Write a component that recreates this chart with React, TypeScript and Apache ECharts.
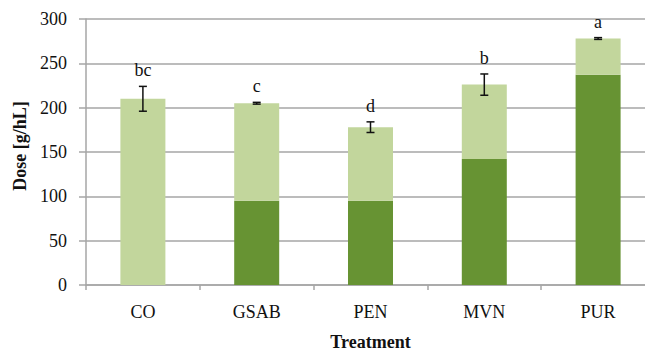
import React, { useEffect, useRef } from "react";
import * as echarts from "echarts";

const categories = ["CO", "GSAB", "PEN", "MVN", "PUR"];
const darkValues = [0, 95, 95, 142, 237];
const totalValues = [210, 205, 178, 226, 278];
const errors = [14, 1, 6, 12, 1];
const letters = ["bc", "c", "d", "b", "a"];
const yTicks = { min: 0, max: 300, interval: 50 };

const FONT = "'Liberation Serif', 'Times New Roman', serif";
const GRID = "#a6a6a6";

export default function App() {
  const ref = useRef<HTMLDivElement>(null);
  useEffect(() => {
    if (!ref.current) return;
    const chart = echarts.init(ref.current, null, { renderer: "svg" });
    const lightValues = totalValues.map((t, i) => t - darkValues[i]);
    chart.setOption({
      animation: false,
      grid: { left: 86, top: 19, width: 569, height: 266, outerBoundsMode: "none", containLabel: false },
      xAxis: {
        type: "category",
        data: categories,
        name: "Treatment",
        nameLocation: "middle",
        nameGap: 48,
        nameTextStyle: { fontFamily: FONT, fontSize: 18, fontWeight: "bold", color: "#111" },
        axisLine: { lineStyle: { color: GRID, width: 1.5 } },
        axisTick: { show: true, length: 5, lineStyle: { color: GRID, width: 1.5 } },
        axisLabel: { fontFamily: FONT, fontSize: 18, color: "#111", margin: 18 },
      },
      yAxis: {
        type: "value",
        min: yTicks.min,
        max: yTicks.max,
        interval: yTicks.interval,
        axisLine: { show: true, lineStyle: { color: GRID, width: 1.5 } },
        axisTick: { show: true, length: 7, lineStyle: { color: GRID, width: 1.5 } },
        splitLine: { lineStyle: { color: GRID, width: 1.5 } },
        axisLabel: { fontFamily: FONT, fontSize: 18, color: "#111", margin: 19 },
      },
      graphic: [
        {
          type: "text",
          x: 20,
          y: 146,
          rotation: Math.PI / 2,
          style: {
            text: "Dose [g/hL]",
            fontFamily: FONT,
            fontSize: 18,
            fontWeight: "bold",
            fill: "#111",
            align: "center",
            verticalAlign: "middle",
          },
        },
      ],
      series: [
        {
          type: "bar",
          stack: "dose",
          data: darkValues,
          barWidth: 45,
          itemStyle: { color: "#679333" },
        },
        {
          type: "bar",
          stack: "dose",
          data: lightValues,
          barWidth: 45,
          itemStyle: { color: "#c2d69c" },
        },
        {
          type: "custom",
          data: totalValues.map((t, i) => [i, t, errors[i]]),
          z: 10,
          renderItem: (params: any, api: any) => {
            const i = api.value(0);
            const t = api.value(1);
            const e = api.value(2);
            const top = api.coord([i, t + e]);
            const bot = api.coord([i, t - e]);
            const x = top[0];
            const cap = 4;
            return {
              type: "group",
              children: [
                { type: "line", shape: { x1: x, y1: top[1], x2: x, y2: bot[1] }, style: { stroke: "#111", lineWidth: 1.5 } },
                { type: "line", shape: { x1: x - cap, y1: top[1], x2: x + cap, y2: top[1] }, style: { stroke: "#111", lineWidth: 1.5 } },
                { type: "line", shape: { x1: x - cap, y1: bot[1], x2: x + cap, y2: bot[1] }, style: { stroke: "#111", lineWidth: 1.5 } },
                {
                  type: "text",
                  x: x,
                  y: top[1] - 16,
                  style: {
                    text: letters[params.dataIndex],
                    fontFamily: FONT,
                    fontSize: 18,
                    fill: "#111",
                    align: "center",
                    verticalAlign: "middle",
                  },
                },
              ],
            };
          },
        },
      ],
    });
    return () => chart.dispose();
  }, []);
  return (
    <div
      ref={ref}
      style={{ position: "fixed", left: 0, top: 0, width: 645, height: 352, background: "#fff" }}
    />
  );
}
